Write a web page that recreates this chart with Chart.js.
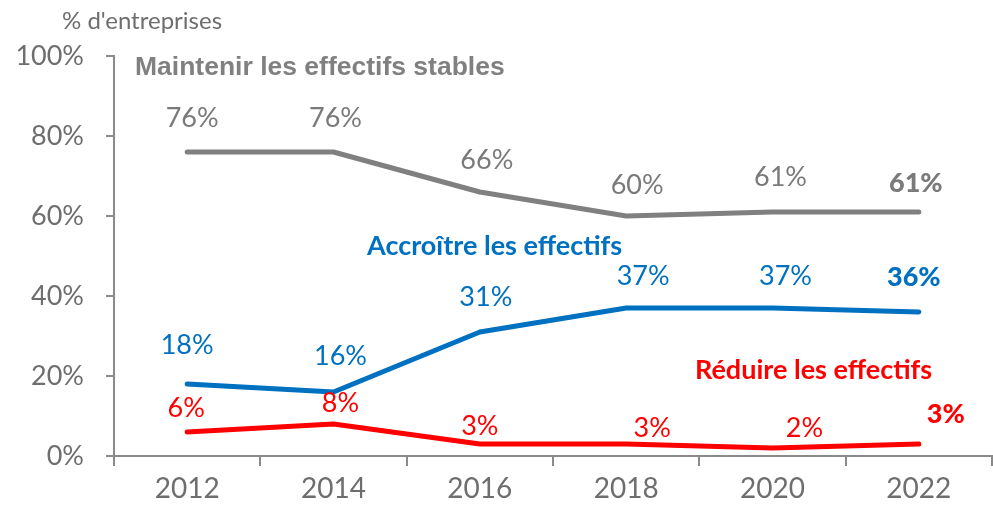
<!DOCTYPE html>
<html>
<head>
<meta charset="utf-8">
<script src="https://cdn.jsdelivr.net/npm/chart.js"></script>
<style>
  html, body { margin: 0; padding: 0; background: #fff; }
  #wrap { width: 993px; height: 508px; position: relative; }
</style>
</head>
<body>
<div id="wrap"><canvas id="chart" width="993" height="508"></canvas></div>
<script>
const years = ['2012', '2014', '2016', '2018', '2020', '2022'];
const maintenir = [76, 76, 66, 60, 61, 61];
const accroitre = [18, 16, 31, 37, 37, 36];
const reduire = [6, 8, 3, 3, 2, 3];
const yTicks = [0, 20, 40, 60, 80, 100];

const GREY = '#808080';
const BLUE = '#0070C0';
const RED = '#FF0000';
const TEXT = '#6e6e6e';
const NUM_FONT = 'Lato, "Open Sans", sans-serif';

// label offsets from each point (dx, dy), per series
const labelOffsets = [
  [[5, -34], [2, -34], [7, -32], [11, -31], [8, -35], [-3, -29]],
  [[0, -39], [7, -36], [6, -35], [17, -32], [13, -32], [-5, -35]],
  [[-1, -24], [7, -21], [0, -18], [26, -16], [32, -20], [27, -30]]
];

const valueLabels = {
  id: 'valueLabels',
  afterDatasetsDraw(chart) {
    const ctx = chart.ctx;
    ctx.save();
    ctx.textAlign = 'center';
    ctx.textBaseline = 'middle';
    chart.data.datasets.forEach((ds, di) => {
      const meta = chart.getDatasetMeta(di);
      meta.data.forEach((pt, i) => {
        const last = i === ds.data.length - 1;
        const [dx, dy] = labelOffsets[di][i];
        ctx.font = (last ? '900 ' : '') + '27px ' + NUM_FONT;
        ctx.fillStyle = ds.labelColor;
        ctx.fillText(ds.data[i] + '%', pt.x + dx, pt.y + dy);
      });
    });

    // series names and axis caption
    ctx.textAlign = 'left';
    ctx.fillStyle = TEXT;
    ctx.font = '24px ' + NUM_FONT;
    ctx.fillText("% d'entreprises", 62, 21);
    ctx.fillStyle = GREY;
    ctx.font = 'bold 26.5px "Liberation Sans", Arial, sans-serif';
    ctx.fillText('Maintenir les effectifs stables', 135, 68);
    ctx.fillStyle = BLUE;
    ctx.font = 'bold 27px ' + NUM_FONT;
    ctx.fillText('Accroître les effectifs', 367, 246);
    ctx.fillStyle = RED;
    ctx.fillText('Réduire les effectifs', 695, 370);
    ctx.restore();
  }
};

const lineStyle = (color) => ({
  borderColor: color,
  backgroundColor: color,
  labelColor: color === GREY ? '#7a7a7a' : color,
  borderWidth: 5,
  borderCapStyle: 'round',
  borderJoinStyle: 'round',
  pointRadius: 0,
  tension: 0,
  fill: false
});

new Chart(document.getElementById('chart').getContext('2d'), {
  type: 'line',
  data: {
    labels: years,
    datasets: [
      { label: 'Maintenir les effectifs stables', data: maintenir, ...lineStyle(GREY) },
      { label: 'Accroître les effectifs', data: accroitre, ...lineStyle(BLUE) },
      { label: 'Réduire les effectifs', data: reduire, ...lineStyle(RED) }
    ]
  },
  options: {
    responsive: false,
    animation: false,
    layout: { padding: { top: 56, right: 1, left: 0, bottom: 0 } },
    plugins: { legend: { display: false }, tooltip: { enabled: false } },
    scales: {
      x: {
        offset: true,
        grid: { offset: true, drawOnChartArea: false, drawTicks: true, tickLength: 10, color: '#8a8a8a', lineWidth: 2 },
        border: { color: '#8a8a8a', width: 2 },
        ticks: { color: TEXT, font: { family: NUM_FONT, size: 28 }, padding: 6 },
        afterFit(scale) { scale.height = 52; }
      },
      y: {
        min: 0,
        max: 100,
        afterBuildTicks(scale) { scale.ticks = yTicks.map((v) => ({ value: v })); },
        grid: { drawOnChartArea: false, drawTicks: true, tickLength: 8, color: '#8a8a8a', lineWidth: 2 },
        border: { color: '#8a8a8a', width: 2 },
        ticks: { color: TEXT, font: { family: NUM_FONT, size: 27 }, padding: 22, callback: (v) => v + '%' },
        afterFit(scale) { scale.width = 114; }
      }
    }
  },
  plugins: [valueLabels]
});
</script>
</body>
</html>
